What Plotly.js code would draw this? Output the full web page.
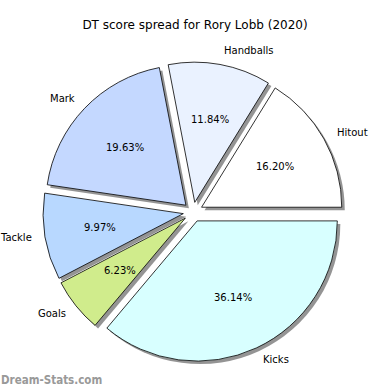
<!DOCTYPE html>
<html>
<head>
<meta charset="utf-8">
<script src="https://cdn.plot.ly/plotly-3.0.1.min.js"></script>
<style>html,body{margin:0;padding:0;background:#fff;}#chart{width:390px;height:390px;}</style>
</head>
<body>
<div id="chart"></div>
<script>
const categories = ["Hitout", "Handballs", "Mark", "Tackle", "Goals", "Kicks"];
const shares = [16.20, 11.84, 19.63, 9.97, 6.23, 36.14];
const sliceColors = ["#ffffff", "#eaf2ff", "#c4d8ff", "#b8d8ff", "#d0ec8c", "#d8ffff"];
const pullAmount = 0.07;

const total = shares.reduce((a, b) => a + b, 0);
const rot = 90 - 360 * shares[0] / total;

// geometry of plot area (px)
const ML = 43, MR = 44, MT = 62, MB = 25, FIG = 390;
const PW = FIG - ML - MR, PH = FIG - MT - MB;
const off = 3 / PW;
const pulls = categories.map(() => pullAmount);
const common = {
  type: "pie",
  labels: categories,
  values: shares,
  sort: false,
  direction: "counterclockwise",
  rotation: rot,
  pull: pulls,
  hoverinfo: "none",
  textinfo: "none",
  showlegend: false
};

const shadow = Object.assign({}, common, {
  domain: {x: [off, 1], y: [0, 1 - off]},
  marker: {colors: categories.map(() => "rgba(60,60,60,0.55)"), line: {width: 0}}
});
const main = Object.assign({}, common, {
  domain: {x: [0, 1 - off], y: [off, 1]},
  marker: {colors: sliceColors, line: {color: "#000", width: 0.8}}
});

// text placement like matplotlib: labels at 1.1 r, percentages at 0.6 r from the exploded centre
const boxPx = Math.min(PW * (1 - off), PH * (1 - off));
const rPx = boxPx / (2 + 2 * pullAmount);
const cxPx = ML + PW * (1 - off) / 2;
const cyPx = MT + PH * (1 - off) / 2;
const toPaperX = px => (px - ML) / PW;
const toPaperY = py => (FIG - MB - py) / PH;

const annotations = [];
let cum = 0;
shares.forEach((v, i) => {
  const mid = (cum + v / 2) / total * 2 * Math.PI;
  cum += v;
  const c = Math.cos(mid), s = Math.sin(mid);
  const ex = cxPx + pullAmount * rPx * c, ey = cyPx - pullAmount * rPx * s;
  annotations.push({
    text: categories[i],
    xref: "paper", yref: "paper",
    x: toPaperX(ex + 1.1 * rPx * c), y: toPaperY(ey - 1.1 * rPx * s),
    xanchor: c > 0 ? "left" : "right", yanchor: "middle",
    xshift: c > 0 ? -1 : 3, yshift: s < 0 ? 1.5 : 0,
    showarrow: false,
    font: {family: "DejaVu Sans", size: 10, color: "#000"}
  });
  annotations.push({
    text: (v / total * 100).toFixed(2) + "%",
    xref: "paper", yref: "paper",
    x: toPaperX(ex + 0.6 * rPx * c), y: toPaperY(ey - 0.6 * rPx * s),
    xanchor: "center", yanchor: "middle",
    showarrow: false,
    font: {family: "DejaVu Sans", size: 10, color: "#000"}
  });
});
annotations.push({
  text: "Dream-Stats.com",
  xref: "paper", yref: "paper",
  x: toPaperX(0), y: toPaperY(FIG - 1), xanchor: "left", yanchor: "bottom",
  xshift: -1,
  showarrow: false,
  font: {family: "DejaVu Sans Condensed", size: 11.5, color: "#999999", weight: "bold"}
});

const layout = {
  width: FIG, height: FIG,
  margin: {l: ML, r: MR, t: MT, b: MB},
  paper_bgcolor: "#fff",
  showlegend: false,
  title: {
    text: "DT score spread for Rory Lobb (2020)",
    font: {family: "DejaVu Sans", size: 12, color: "#000"},
    x: 0.5, xref: "container", xanchor: "center",
    y: 1 - 25 / FIG, yref: "container", yanchor: "middle"
  },
  annotations: annotations
};

Plotly.newPlot("chart", [shadow, main], layout, {staticPlot: true});
</script>
</body>
</html>
